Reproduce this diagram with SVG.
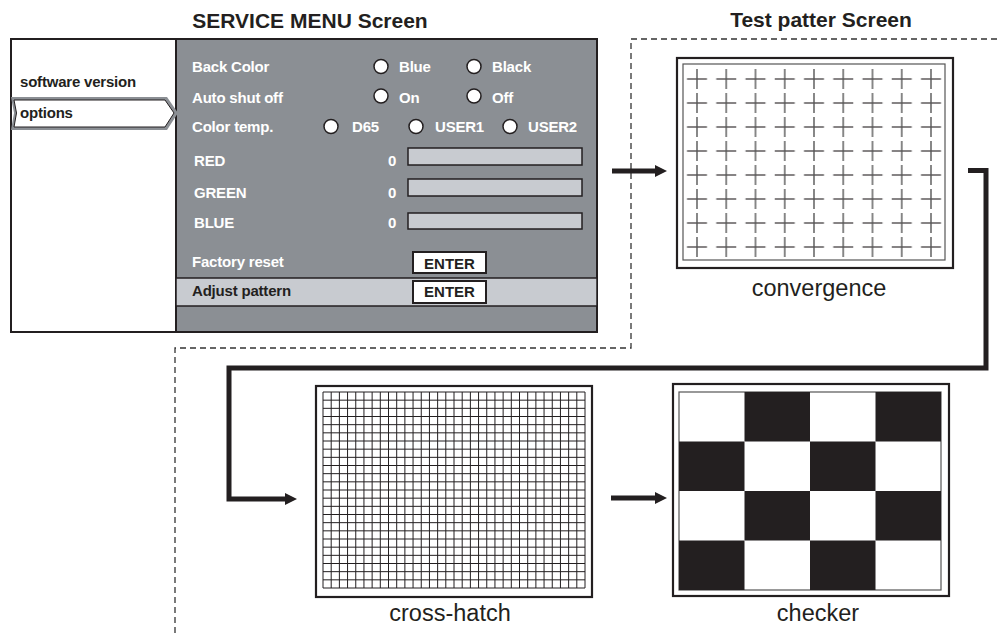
<svg xmlns="http://www.w3.org/2000/svg" width="997" height="634" viewBox="0 0 997 634">
<style>
.title{font-family:"Liberation Sans",Arial,sans-serif;font-weight:bold;font-size:21px;fill:#231f20}
.mi{font-family:"Liberation Sans",Arial,sans-serif;font-weight:bold;font-size:15px;fill:#231f20;letter-spacing:-0.2px}
.wl{font-family:"Liberation Sans",Arial,sans-serif;font-weight:bold;font-size:15px;fill:#ffffff;letter-spacing:-0.2px}
.cap{font-family:"Liberation Sans",Arial,sans-serif;font-size:23.5px;fill:#231f20;text-anchor:middle}
.ent{font-family:"Liberation Sans",Arial,sans-serif;font-weight:bold;font-size:15px;fill:#231f20;text-anchor:middle}
.radio{fill:#ffffff;stroke:#231f20;stroke-width:1.5}
.bar{fill:#c8cbd0;stroke:#231f20;stroke-width:1.5}
.btn{fill:#ffffff;stroke:#231f20;stroke-width:2}
.outer{fill:#ffffff;stroke:#231f20;stroke-width:2.2}
.inner{fill:none;stroke:#555;stroke-width:1.2}
.conn{fill:none;stroke:#231f20;stroke-width:5}
.dash{fill:none;stroke:#333;stroke-width:1.3;stroke-dasharray:6 4}
</style>
<defs>
<marker id="ah" markerWidth="12" markerHeight="12" viewBox="0 0 12 12" refX="0" refY="6" orient="auto" markerUnits="userSpaceOnUse">
<path d="M0,0L12,6L0,12z" fill="#231f20"/>
</marker>
<pattern id="crossp" x="682.375" y="67" width="29.25" height="24" patternUnits="userSpaceOnUse">
<path d="M4.625,12H24.625" stroke="#231f20" stroke-width="1.1"/>
<path d="M14.625,2V22" stroke="#555" stroke-width="1.4"/>
</pattern>
</defs>

<g id="titles">
<text class="title" x="310" y="28" text-anchor="middle">SERVICE MENU Screen</text>
<text class="title" x="821" y="27" text-anchor="middle">Test patter Screen</text>
</g>

<g id="dashed-frame">
<path class="dash" d="M997,39H631V348H175V634"/>
</g>

<g id="service-menu">
<rect x="11" y="39" width="586" height="293" fill="#ffffff" stroke="#231f20" stroke-width="2"/>
<rect x="176" y="39" width="421" height="293" fill="#8b8f94" stroke="#231f20" stroke-width="2"/>
<rect x="176" y="278" width="421" height="28" fill="#c8cbd0" stroke="#231f20" stroke-width="1.5"/>
<text class="mi" x="20" y="87">software version</text>
<polygon points="11,97 167,97 178,113 167,130 11,130 14,113" fill="#8b8f94"/>
<polygon points="14,100 165,100 174,113 165,127 14,127 16.5,113" fill="#ffffff" stroke="#231f20" stroke-width="1"/>
<text class="mi" x="20" y="118">options</text>

<text class="wl" x="192" y="72">Back Color</text>
<circle class="radio" cx="381" cy="66.5" r="7"/>
<text class="wl" x="399" y="72">Blue</text>
<circle class="radio" cx="474" cy="66.5" r="7"/>
<text class="wl" x="492" y="72">Black</text>

<text class="wl" x="192" y="102.5">Auto shut off</text>
<circle class="radio" cx="381" cy="96" r="7"/>
<text class="wl" x="399" y="102.5">On</text>
<circle class="radio" cx="474" cy="96" r="7"/>
<text class="wl" x="492" y="102.5">Off</text>

<text class="wl" x="192" y="132">Color temp.</text>
<circle class="radio" cx="331" cy="126.5" r="7"/>
<text class="wl" x="352" y="132">D65</text>
<circle class="radio" cx="416" cy="126.5" r="7"/>
<text class="wl" x="435" y="132">USER1</text>
<circle class="radio" cx="510" cy="126.5" r="7"/>
<text class="wl" x="528" y="132">USER2</text>

<text class="wl" x="194" y="166">RED</text>
<text class="wl" x="388" y="166">0</text>
<rect class="bar" x="408" y="148" width="174" height="17"/>
<text class="wl" x="194" y="197.5">GREEN</text>
<text class="wl" x="388" y="197.5">0</text>
<rect class="bar" x="408" y="179" width="174" height="17"/>
<text class="wl" x="194" y="228">BLUE</text>
<text class="wl" x="388" y="228">0</text>
<rect class="bar" x="408" y="213" width="174" height="16"/>

<text class="wl" x="192" y="266.5">Factory reset</text>
<rect class="btn" x="413" y="252" width="73" height="21"/>
<text class="ent" x="449.5" y="268.5">ENTER</text>
<text class="mi" x="192" y="296">Adjust pattern</text>
<rect class="btn" x="413" y="281" width="73" height="22"/>
<text class="ent" x="449.5" y="297">ENTER</text>
</g>

<g id="convergence">
<rect class="outer" x="677" y="58" width="276" height="210"/>
<rect class="inner" x="683" y="64" width="262" height="196"/>
<rect x="682.375" y="67" width="263.25" height="192" fill="url(#crossp)"/>
<text class="cap" x="819" y="296">convergence</text>
</g>

<g id="cross-hatch">
<rect class="outer" x="316" y="386" width="276" height="211"/>
<path fill="none" stroke="#231f20" stroke-width="1" d="M323,392V588M331.19,392V588M339.38,392V588M347.56,392V588M355.75,392V588M363.94,392V588M372.13,392V588M380.31,392V588M388.5,392V588M396.69,392V588M404.88,392V588M413.06,392V588M421.25,392V588M429.44,392V588M437.63,392V588M445.81,392V588M454,392V588M462.19,392V588M470.38,392V588M478.56,392V588M486.75,392V588M494.94,392V588M503.13,392V588M511.31,392V588M519.5,392V588M527.69,392V588M535.88,392V588M544.06,392V588M552.25,392V588M560.44,392V588M568.63,392V588M576.81,392V588M585,392V588M323,392H585M323,400.17H585M323,408.33H585M323,416.5H585M323,424.67H585M323,432.83H585M323,441H585M323,449.17H585M323,457.33H585M323,465.5H585M323,473.67H585M323,481.83H585M323,490H585M323,498.17H585M323,506.33H585M323,514.5H585M323,522.67H585M323,530.83H585M323,539H585M323,547.17H585M323,555.33H585M323,563.5H585M323,571.67H585M323,579.83H585M323,588H585"/>
<text class="cap" x="450" y="621">cross-hatch</text>
</g>

<g id="checker">
<rect class="outer" x="673" y="384" width="276" height="212"/>
<rect class="inner" x="679" y="392" width="262" height="198"/>
<g fill="#231f20">
<rect x="744.5" y="392" width="65.5" height="49.5"/>
<rect x="875.5" y="392" width="65.5" height="49.5"/>
<rect x="679" y="441.5" width="65.5" height="49.5"/>
<rect x="810" y="441.5" width="65.5" height="49.5"/>
<rect x="744.5" y="491" width="65.5" height="49.5"/>
<rect x="875.5" y="491" width="65.5" height="49.5"/>
<rect x="679" y="540.5" width="65.5" height="49.5"/>
<rect x="810" y="540.5" width="65.5" height="49.5"/>
</g>
<text class="cap" x="818" y="621">checker</text>
</g>

<g id="connectors">
<path class="conn" d="M612,171H655" marker-end="url(#ah)"/>
<path class="conn" d="M968,170.5H986V368H229V499H285" marker-end="url(#ah)"/>
<path class="conn" d="M611,498H655" marker-end="url(#ah)"/>
</g>
</svg>
